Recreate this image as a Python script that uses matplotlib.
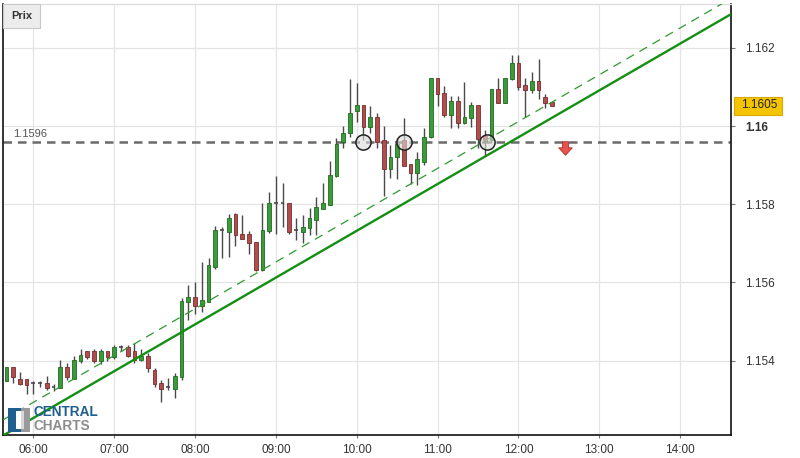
import matplotlib
matplotlib.use("Agg")
import matplotlib.pyplot as plt
import numpy as np
from matplotlib.patches import Rectangle
from matplotlib.path import Path

plt.rcParams['font.family'] = ['Liberation Sans', 'DejaVu Sans']

# ---------------- data ----------------
start_time = "05:40"
bar_minutes = 5
opens = [1.15349, 1.15383, 1.15352, 1.15352, 1.15342, 1.15342, 1.15342, 1.15332, 1.15329, 1.15383,
         1.15353, 1.15400, 1.15425, 1.15425, 1.15400, 1.15425, 1.15410, 1.15434, 1.15434, 1.15425,
         1.15401, 1.15413, 1.15376, 1.15342, 1.15332, 1.15328, 1.15359, 1.15551, 1.15564, 1.15540,
         1.15551, 1.15640, 1.15734, 1.15730, 1.15775, 1.15724, 1.15724, 1.15704, 1.15631, 1.15732,
         1.15803, 1.15803, 1.15803, 1.15734, 1.15730, 1.15740, 1.15760, 1.15788, 1.15798, 1.15871,
         1.15960, 1.15982, 1.16039, 1.16054, 1.15998, 1.16023, 1.15964, 1.15890, 1.15920, 1.15964,
         1.15903, 1.15881, 1.15909, 1.15971, 1.16122, 1.16084, 1.16028, 1.16063, 1.16009, 1.16020,
         1.16054, 1.15975, 1.15963, 1.16094, 1.16060, 1.16120, 1.16162, 1.16105, 1.16091, 1.16114,
         1.16074, 1.16062]
highs = [1.15385, 1.15385, 1.15370, 1.15353, 1.15349, 1.15349, 1.15360, 1.15340, 1.15402, 1.15393,
         1.15413, 1.15431, 1.15425, 1.15429, 1.15429, 1.15425, 1.15440, 1.15440, 1.15440, 1.15444,
         1.15430, 1.15419, 1.15381, 1.15351, 1.15356, 1.15369, 1.15560, 1.15594, 1.15601, 1.15652,
         1.15662, 1.15745, 1.15743, 1.15774, 1.15777, 1.15773, 1.15732, 1.15704, 1.15803, 1.15831,
         1.15872, 1.15854, 1.15803, 1.15765, 1.15773, 1.15791, 1.15819, 1.15854, 1.15911, 1.15969,
         1.16000, 1.16120, 1.16111, 1.16054, 1.16051, 1.16033, 1.16000, 1.15952, 1.15969, 1.16020,
         1.15903, 1.15934, 1.15994, 1.16122, 1.16122, 1.16103, 1.16077, 1.16077, 1.16113, 1.16062,
         1.16054, 1.15991, 1.16094, 1.16122, 1.16122, 1.16182, 1.16182, 1.16123, 1.16139, 1.16171,
         1.16082, 1.16062]
lows = [1.15347, 1.15342, 1.15338, 1.15314, 1.15314, 1.15332, 1.15324, 1.15323, 1.15329, 1.15351,
        1.15353, 1.15394, 1.15404, 1.15393, 1.15392, 1.15399, 1.15404, 1.15425, 1.15409, 1.15393,
        1.15399, 1.15372, 1.15333, 1.15294, 1.15325, 1.15304, 1.15351, 1.15504, 1.15520, 1.15525,
        1.15550, 1.15635, 1.15663, 1.15664, 1.15692, 1.15710, 1.15673, 1.15629, 1.15629, 1.15726,
        1.15723, 1.15743, 1.15723, 1.15709, 1.15702, 1.15721, 1.15721, 1.15788, 1.15798, 1.15870,
        1.15943, 1.15973, 1.16011, 1.15964, 1.15983, 1.15943, 1.15821, 1.15866, 1.15864, 1.15898,
        1.15852, 1.15849, 1.15901, 1.15969, 1.16052, 1.16023, 1.15994, 1.15994, 1.16005, 1.15998,
        1.15944, 1.15924, 1.15957, 1.16059, 1.16059, 1.16118, 1.16092, 1.16022, 1.16084, 1.16069,
        1.16046, 1.16051]
closes = [1.15383, 1.15359, 1.15340, 1.15338, 1.15342, 1.15342, 1.15329, 1.15332, 1.15383, 1.15359,
          1.15403, 1.15415, 1.15410, 1.15400, 1.15425, 1.15410, 1.15434, 1.15434, 1.15411, 1.15401,
          1.15413, 1.15381, 1.15340, 1.15328, 1.15332, 1.15362, 1.15553, 1.15562, 1.15540, 1.15555,
          1.15645, 1.15734, 1.15734, 1.15764, 1.15721, 1.15710, 1.15700, 1.15631, 1.15734, 1.15803,
          1.15803, 1.15803, 1.15730, 1.15734, 1.15743, 1.15764, 1.15794, 1.15803, 1.15875, 1.15954,
          1.15983, 1.16034, 1.16054, 1.15998, 1.16023, 1.15960, 1.15890, 1.15922, 1.15953, 1.15898,
          1.15881, 1.15915, 1.15973, 1.16122, 1.16082, 1.16028, 1.16063, 1.16008, 1.16023, 1.16054,
          1.15967, 1.15962, 1.16094, 1.16060, 1.16122, 1.16162, 1.16101, 1.16091, 1.16114, 1.16091,
          1.16060, 1.16051]

hour_labels = ["06:00", "07:00", "08:00", "09:00", "10:00", "11:00", "12:00", "13:00", "14:00"]
price_ticks = [1.154, 1.156, 1.158, 1.16, 1.162]
price_tick_labels = ["1.154", "1.156", "1.158", "1.16", "1.162"]

x_range = ("05:37.7", "14:37.8")
y_range = (1.15210, 1.16312)

support_level = 1.1596
support_label = "1.1596"
last_price = 1.1605
last_label = "1.1605"

trend_start = ("05:37.7", 1.15209)
trend_end = ("14:37.8", 1.16286)
channel_offset = 0.0004

touch_times = ["10:05", "10:35", "11:37"]
arrow_time = "12:34.6"
arrow_price = 1.15944


def to_min(s):
    h, m = s.split(":")
    return int(h) * 60 + float(m)


t0 = to_min(start_time)
xs = np.array([t0 + bar_minutes * i for i in range(len(opens))])
O = np.array(opens); H = np.array(highs); L = np.array(lows); C = np.array(closes)

# ---------------- figure ----------------
W, Hh = 800, 458
fig = plt.figure(figsize=(W / 100, Hh / 100), dpi=100)
fig.patch.set_facecolor("white")
l, r, t, b = 3.3, 731, 4, 435
ax = fig.add_axes([l / W, 1 - b / Hh, (r - l) / W, (b - t) / Hh])
ax.set_facecolor("white")

ax.set_xlim(to_min(x_range[0]), to_min(x_range[1]))
ax.set_ylim(*y_range)

# grid
grid_c = "#e4e4e4"
for lab in hour_labels:
    ax.axvline(to_min(lab), color=grid_c, lw=0.9, zorder=0)
for p in price_ticks:
    ax.axhline(p, color=grid_c, lw=0.9, zorder=0)

# support dashed line
ax.axhline(support_level, color="#6a6a6a", lw=1.8, dashes=(3.4, 2.4), zorder=2)

# candles
green_f, green_e = "#3b9a3b", "#1f6b1f"
red_f, red_e = "#b04d4d", "#7a2c2c"
wick_c = "#4a4a4a"
bw = 2.8
ax.vlines(xs, L, H, color=wick_c, lw=1.0, zorder=3)
for x, o, h, lo, c in zip(xs, O, H, L, C):
    if c > o:
        ax.add_patch(Rectangle((x - bw / 2, o), bw, c - o, facecolor=green_f,
                               edgecolor=green_e, lw=0.6, zorder=4))
    elif c < o:
        ax.add_patch(Rectangle((x - bw / 2, c), bw, o - c, facecolor=red_f,
                               edgecolor=red_e, lw=0.6, zorder=4))
    else:
        ax.hlines(o, x - bw / 2, x + bw / 2, color=wick_c, lw=1.2, zorder=4)

# trend lines
tx = [to_min(trend_start[0]), to_min(trend_end[0])]
ty = [trend_start[1], trend_end[1]]
ax.plot(tx, ty, color="#138f13", lw=1.7, zorder=5, solid_capstyle="butt")
ax.plot(tx, [v + channel_offset for v in ty], color="#2e9a2e", lw=0.9,
        dashes=(7, 5), zorder=5)

# touch circles
ax.scatter([to_min(s) for s in touch_times], [support_level] * len(touch_times),
           s=120, facecolor=(0.86, 0.86, 0.86, 0.6), edgecolor="#222222",
           linewidths=1.1, zorder=6)

# red down arrow
arrow_path = Path([(-0.22, 0.5), (0.22, 0.5), (0.22, 0.05), (0.5, 0.05), (0.0, -0.5),
                   (-0.5, 0.05), (-0.22, 0.05), (-0.22, 0.5)], closed=True)
ax.scatter([to_min(arrow_time)], [arrow_price], marker=arrow_path, s=95,
           facecolor="#e8524c", edgecolor="#b02a25", linewidths=0.6, zorder=6)

# spines
for side in ["left", "bottom", "right"]:
    ax.spines[side].set_color("#111111")
    ax.spines[side].set_linewidth(1.2)
ax.spines["top"].set_color("#dddddd")
ax.spines["top"].set_linewidth(0.9)

# ticks
ax.yaxis.tick_right()
ax.set_yticks(price_ticks)
ax.set_yticklabels(price_tick_labels)
ax.tick_params(axis="y", which="both", length=3, width=0.8, color="#777777",
               labelsize=8.5, labelcolor="#333333", pad=7)
for lbl in ax.get_yticklabels():
    if lbl.get_text() == "1.16":
        lbl.set_fontweight("bold")
ax.set_xticks([to_min(s) for s in hour_labels])
ax.set_xticklabels(hour_labels)
ax.tick_params(axis="x", length=2.5, width=0.8, color="#777777", labelsize=8.5,
               labelcolor="#333333", pad=4)

# last price label (yellow box just right of the axis)
ylab_px = ax.transData.transform((ax.get_xlim()[1], last_price))[1]
fig_h = fig.bbox.height
fig.patches.append(Rectangle(((r + 2.5) / W, (ylab_px - 9) / fig_h), 48 / W, 18 / Hh,
                             transform=fig.transFigure, facecolor="#f5c400",
                             edgecolor="#d7a800", lw=0.8, zorder=10))
fig.text((r + 10) / W, (ylab_px + 1) / fig_h, last_label, ha="left", va="center",
         fontsize=8.5, color="#222222", zorder=11)

# support label text
ax.annotate(support_label, xy=(0.0, support_level), xycoords=("axes fraction", "data"),
            xytext=(10, 8), textcoords="offset pixels", ha="left", va="center",
            fontsize=8, color="#555555")

# "Prix" box
fig.patches.append(Rectangle((3.3 / W, 1 - 28 / Hh), 36.7 / W, 24 / Hh,
                             transform=fig.transFigure, facecolor="#ececec",
                             edgecolor="#c8c8c8", lw=0.8, zorder=10))
fig.text(21.5 / W, 1 - 16 / Hh, "Prix", ha="center", va="center", fontsize=8,
         fontweight="bold", color="#333333", zorder=11)

# Central Charts logo
fig.patches.append(Rectangle((8 / W, 1 - 432 / Hh), 13 / W, 24 / Hh,
                             transform=fig.transFigure, facecolor="#1d5f8e",
                             edgecolor="none", zorder=10))
fig.patches.append(Rectangle((16 / W, 1 - 429 / Hh), 5 / W, 18 / Hh,
                             transform=fig.transFigure, facecolor="#ffffff",
                             edgecolor="none", zorder=11))
fig.patches.append(Rectangle((21 / W, 1 - 432 / Hh), 9 / W, 24 / Hh,
                             transform=fig.transFigure, facecolor="#9a9a9a",
                             edgecolor="none", zorder=10))
fig.patches.append(Rectangle((21 / W, 1 - 429 / Hh), 3 / W, 18 / Hh,
                             transform=fig.transFigure, facecolor="#d8d8d8",
                             edgecolor="none", zorder=11))
fig.text(34 / W, 1 - 412.5 / Hh, "CENTRAL", ha="left", va="center", fontsize=9.8,
         fontweight="bold", color="#1f5f8d", zorder=11)
fig.text(34 / W, 1 - 426 / Hh, "CHARTS", ha="left", va="center", fontsize=9.8,
         fontweight="bold", color="#8c8c8c", zorder=11)

fig.savefig("out.png", dpi=100, facecolor="white")
